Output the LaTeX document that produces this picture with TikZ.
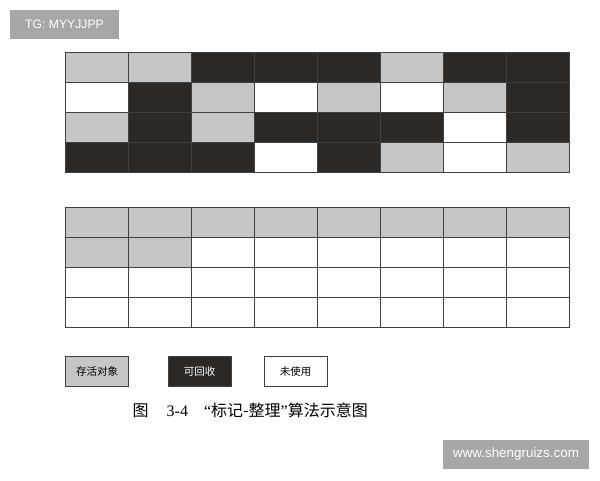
\documentclass[tikz,border=0pt]{standalone}
\usepackage{fontspec}
\setmainfont{Liberation Sans}
\newfontfamily\cjk{Noto Sans CJK SC}
\newfontfamily\serif{Liberation Serif}
\newlength{\du}
\setlength{\du}{1pt}
\definecolor{livecolor}{rgb}{0.776, 0.776, 0.776}
\definecolor{deadcolor}{rgb}{0.169, 0.157, 0.149}
\definecolor{freecolor}{rgb}{1.000, 1.000, 1.000}
\definecolor{gridline}{rgb}{0.25, 0.25, 0.25}
\definecolor{markcolor}{rgb}{0.655, 0.655, 0.655}
\tikzset{
  cell/.style={draw=gridline, line width=1\du},
  keybox/.style={draw=gridline, line width=1\du, minimum width=63\du, minimum height=30\du, inner sep=0pt, font=\cjk\fontsize{10.5}{12}\selectfont},
  tag/.style={fill=markcolor, text=white, inner sep=0pt}
}

\begin{document}
\begin{tikzpicture}[x=1\du, y=-1\du]
\useasboundingbox (0,0) rectangle (600,480);
% before: marked heap
\foreach \row [count=\r from 0] in {
  {livecolor,livecolor,deadcolor,deadcolor,deadcolor,livecolor,deadcolor,deadcolor},
  {freecolor,deadcolor,livecolor,freecolor,livecolor,freecolor,livecolor,deadcolor},
  {livecolor,deadcolor,livecolor,deadcolor,deadcolor,deadcolor,freecolor,deadcolor},
  {deadcolor,deadcolor,deadcolor,freecolor,deadcolor,livecolor,freecolor,livecolor}}
  \foreach \col [count=\c from 0] in \row
    \filldraw[cell, fill=\col] (65+63*\c, 52.5+30*\r) rectangle ++(63,30);
% after: compacted heap
\foreach \row [count=\r from 0] in {
  {livecolor,livecolor,livecolor,livecolor,livecolor,livecolor,livecolor,livecolor},
  {livecolor,livecolor,freecolor,freecolor,freecolor,freecolor,freecolor,freecolor},
  {freecolor,freecolor,freecolor,freecolor,freecolor,freecolor,freecolor,freecolor},
  {freecolor,freecolor,freecolor,freecolor,freecolor,freecolor,freecolor,freecolor}}
  \foreach \col [count=\c from 0] in \row
    \filldraw[cell, fill=\col] (65+63*\c, 207+30*\r) rectangle ++(63,30);
% legend
\node[keybox, fill=livecolor] (live) at (97, 371.5) {存活对象};
\node[keybox, fill=deadcolor, text=white] (dead) at (199.5, 371.5) {可回收};
\node[keybox, fill=freecolor] (free) at (295.5, 371.5) {未使用};
% caption
\node[anchor=west, inner sep=0pt, font=\cjk\fontsize{16}{18}\selectfont] (caption) at (132.5, 410)
  {图\hspace{18\du}{\serif 3-4}\hspace{16\du}{\serif “}标记-整理{\serif ”}算法示意图};
% watermarks
\node[tag, minimum width=109\du, minimum height=29\du, font=\fontsize{12.2}{14}\selectfont] (tg) at (64.5, 24.5) {TG: MYYJJPP};
\node[tag, minimum width=146\du, minimum height=29\du, font=\fontsize{13.4}{15}\selectfont] (site) at (516, 454.5) {www.shengruizs.com};
\end{tikzpicture}
\end{document}
